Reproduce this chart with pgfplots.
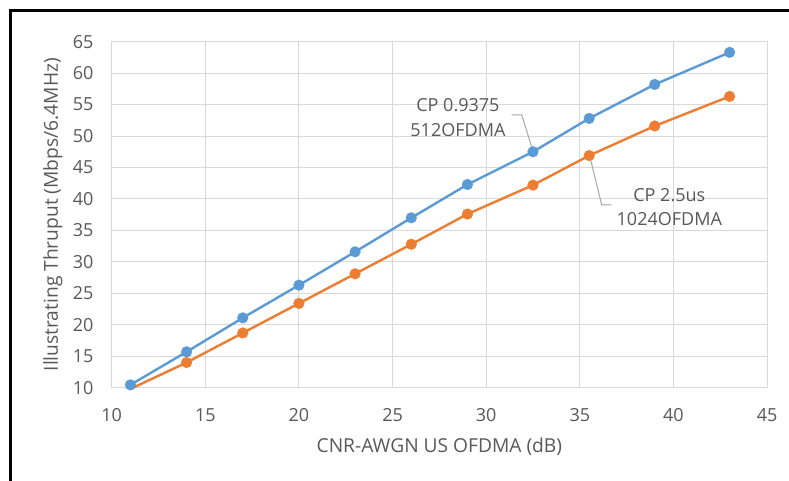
\documentclass[border=0pt]{standalone}
\usepackage{fontspec}
\setmainfont{Open Sans}
\usepackage{pgfplots}
\pgfplotsset{compat=1.18}
\definecolor{cpblue}{HTML}{5B9BD5}
\definecolor{cporange}{HTML}{ED7D31}
\definecolor{gridgray}{HTML}{D9D9D9}
\definecolor{txtgray}{HTML}{595959}
\definecolor{leadgray}{HTML}{A6A6A6}

\begin{document}
\begin{tikzpicture}
\useasboundingbox (0,0) rectangle (591.75pt,360.75pt);
\fill[white] (0,0) rectangle (591.75pt,360.75pt);
% outer frame (only left and top edges are inside the picture)
\draw[line width=1.9pt] (8pt,-2pt) -- (8pt,352.7pt) -- (600pt,352.7pt);
\begin{axis}[
  at={(83.78pt,69.98pt)}, anchor=south west,
  scale only axis, width=491.5pt, height=259.5pt,
  xmin=10, xmax=45, ymin=10, ymax=65,
  xtick={10,15,...,45}, ytick={10,15,...,65},
  grid=major, major grid style={gridgray, line width=0.75pt},
  axis line style={gridgray, line width=0.75pt},
  major tick length=0pt,
  /pgf/number format/assume math mode=true,
  tick label style={font=\fontsize{13.5}{16}\selectfont, text=txtgray},
  xticklabel style={anchor=center, inner sep=0pt, yshift=-20.5pt},
  yticklabel style={anchor=east, inner sep=0pt, xshift=-13.5pt},
  xlabel={CNR-AWGN US OFDMA (dB)},
  ylabel={Illustrating Thruput (Mbps/6.4MHz)},
  label style={font=\fontsize{14.4}{16}\selectfont, text=txtgray},
  xlabel style={at={(axis description cs:0.5,-0.1705)}, anchor=center},
  ylabel style={at={(axis description cs:-0.0896,0.5)}, anchor=center},
  clip=false,
]
% leader lines
\draw[leadgray, line width=0.75pt] (axis cs:31.36,53.35) -- (axis cs:31.90,53.35) -- (axis cs:32.48,47.78);
\draw[leadgray, line width=0.75pt] (axis cs:35.54,46.72) -- (axis cs:36.17,39.04) -- (axis cs:36.70,39.04);

% CP 2.5us 1024OFDMA
\addplot[cporange, line width=1.8pt, mark=*, mark size=4pt,
  mark options={solid, fill=cporange, draw=cporange, line width=0.3pt},
  mark indices={2,3,4,5,6,7,8,9,10,11}] coordinates {
  (11,9.8) (14,14.0) (17,18.7) (20,23.4) (23,28.1) (26,32.8)
  (29,37.6) (32.5,42.2) (35.5,46.9) (39,51.6) (43,56.3)
};
% CP 0.9375 512OFDMA
\addplot[cpblue, line width=1.8pt, mark=*, mark size=4pt,
  mark options={solid, fill=cpblue, draw=cpblue, line width=0.3pt}] coordinates {
  (11,10.45) (14,15.7) (17,21.1) (20,26.3) (23,31.6) (26,37.0)
  (29,42.3) (32.5,47.5) (35.5,52.8) (39,58.2) (43,63.3)
};

\node[align=center, text=txtgray, inner sep=0pt, font=\fontsize{13.5}{18.2}\selectfont]
  at (axis cs:28.49,52.95) {CP 0.9375\\512OFDMA};
\node[align=center, text=txtgray, inner sep=0pt, font=\fontsize{13.5}{18.2}\selectfont]
  at (axis cs:39.78,38.72) {CP 2.5us\\1024OFDMA};
\end{axis}
\end{tikzpicture}
\end{document}
